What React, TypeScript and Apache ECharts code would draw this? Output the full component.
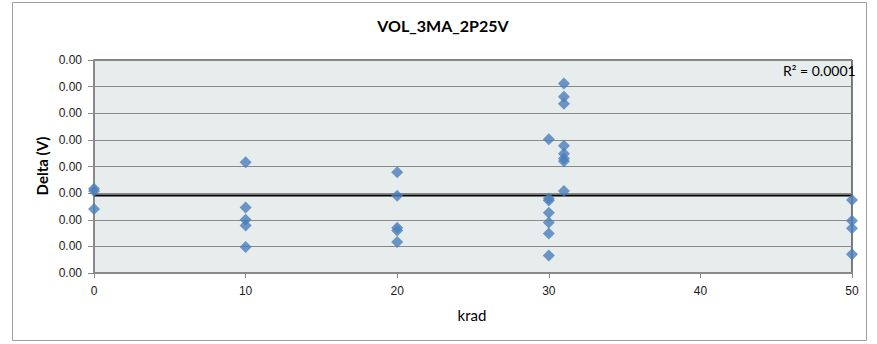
import React, { useEffect, useRef } from "react";
import * as echarts from "echarts";

// krad values and Delta (V) values
const x0 = [0, 0, 0];
const y0 = [0.00158, 0.00154, 0.0012];
const x10 = [10, 10, 10, 10, 10];
const y10 = [0.00208, 0.00123, 0.001, 0.00089, 0.00049];
const x20 = [20, 20, 20, 20, 20];
const y20 = [0.00189, 0.00145, 0.00085, 0.0008, 0.00058];
const x30 = [30, 30, 30, 30, 30, 30, 30];
const y30 = [0.00251, 0.0014, 0.00136, 0.00113, 0.00095, 0.00074, 0.00033];
const x31 = [31, 31, 31, 31, 31, 31, 31, 31];
const y31 = [0.00356, 0.00331, 0.00318, 0.00239, 0.00224, 0.00215, 0.0021, 0.00154];
const x50 = [50, 50, 50, 50];
const y50 = [0.00137, 0.00098, 0.00084, 0.00035];

const trendX = [0, 50];
const trendY = [0.001455, 0.001455];

const title = "VOL_3MA_2P25V";
const xName = "krad";
const yName = "Delta (V)";
const r2Label = "R² = 0.0001";

const allX = [...x0, ...x10, ...x20, ...x30, ...x31, ...x50];
const allY = [...y0, ...y10, ...y20, ...y30, ...y31, ...y50];
const points = allX.map((x, i) => [x, allY[i]]);
const trend = trendX.map((x, i) => [x, trendY[i]]);

export default function App() {
  const ref = useRef<HTMLDivElement>(null);
  useEffect(() => {
    if (!ref.current) return;
    const chart = echarts.init(ref.current, null, { renderer: "svg" });
    const gray = "#898989";
    const font = "Lato, Open Sans, sans-serif";
    chart.setOption({
      animation: false,
      backgroundColor: "#ffffff",
      grid: {
        left: 94,
        right: 25,
        top: 60,
        bottom: 71,
        show: true,
        backgroundColor: "#e7ecec",
        borderColor: "#000000",
        borderWidth: 1,
      },
      xAxis: {
        type: "value",
        min: 0,
        max: 50,
        interval: 10,
        axisLine: { show: true, onZero: false, lineStyle: { color: gray, width: 2 } },
        axisTick: { show: true, length: 5, lineStyle: { color: gray } },
        axisLabel: {
          color: "#1a1a1a",
          fontSize: 12,
          fontFamily: "Liberation Sans",
          margin: 12,
        },
        splitLine: { show: false },
      },
      yAxis: {
        type: "value",
        min: 0,
        max: 0.004,
        interval: 0.0005,
        axisLine: { show: true, onZero: false, lineStyle: { color: gray, width: 2 } },
        axisTick: { show: true, length: 6, lineStyle: { color: gray } },
        axisLabel: {
          color: "#1a1a1a",
          fontSize: 12,
          fontFamily: "Liberation Sans",
          margin: 12,
          formatter: (v: number) => v.toFixed(2),
        },
        splitLine: { show: true, lineStyle: { color: gray, width: 1 } },
      },
      series: [
        {
          type: "line",
          data: trend,
          symbol: "none",
          lineStyle: { color: "#000000", width: 2 },
          z: 3,
        },
        {
          type: "scatter",
          data: points,
          symbol: "diamond",
          symbolSize: 12,
          itemStyle: { color: "#4a7ebb" },
          z: 4,
        },
      ],
      graphic: [
        {
          type: "rect",
          shape: { x: 12.5, y: 2.5, width: 854, height: 338 },
          style: { fill: "none", stroke: "#a0a0a0", lineWidth: 1 },
          z: -1,
        },
        {
          type: "text",
          x: 443,
          y: 25,
          style: {
            text: title,
            fontSize: 16,
            fontWeight: "bold",
            fontFamily: font,
            fill: "#000000",
            textAlign: "center",
            textVerticalAlign: "middle",
          },
        },
        {
          type: "text",
          x: 42,
          y: 166,
          rotation: Math.PI / 2,
          style: {
            text: yName,
            fontSize: 15,
            fontWeight: "bold",
            fontFamily: font,
            fill: "#000000",
            textAlign: "center",
            textVerticalAlign: "middle",
          },
        },
        {
          type: "text",
          x: 472,
          y: 315,
          style: {
            text: xName,
            fontSize: 15,
            fontFamily: font,
            fill: "#000000",
            textAlign: "center",
            textVerticalAlign: "middle",
          },
        },
        {
          type: "text",
          x: 783,
          y: 70,
          style: {
            text: r2Label,
            fontSize: 14,
            fontFamily: font,
            fill: "#000000",
            textAlign: "left",
            textVerticalAlign: "middle",
          },
          z: 10,
        },
      ],
    });
    return () => chart.dispose();
  }, []);
  return (
    <div
      ref={ref}
      style={{ position: "absolute", left: 0, top: 0, width: 877, height: 344 }}
    />
  );
}
